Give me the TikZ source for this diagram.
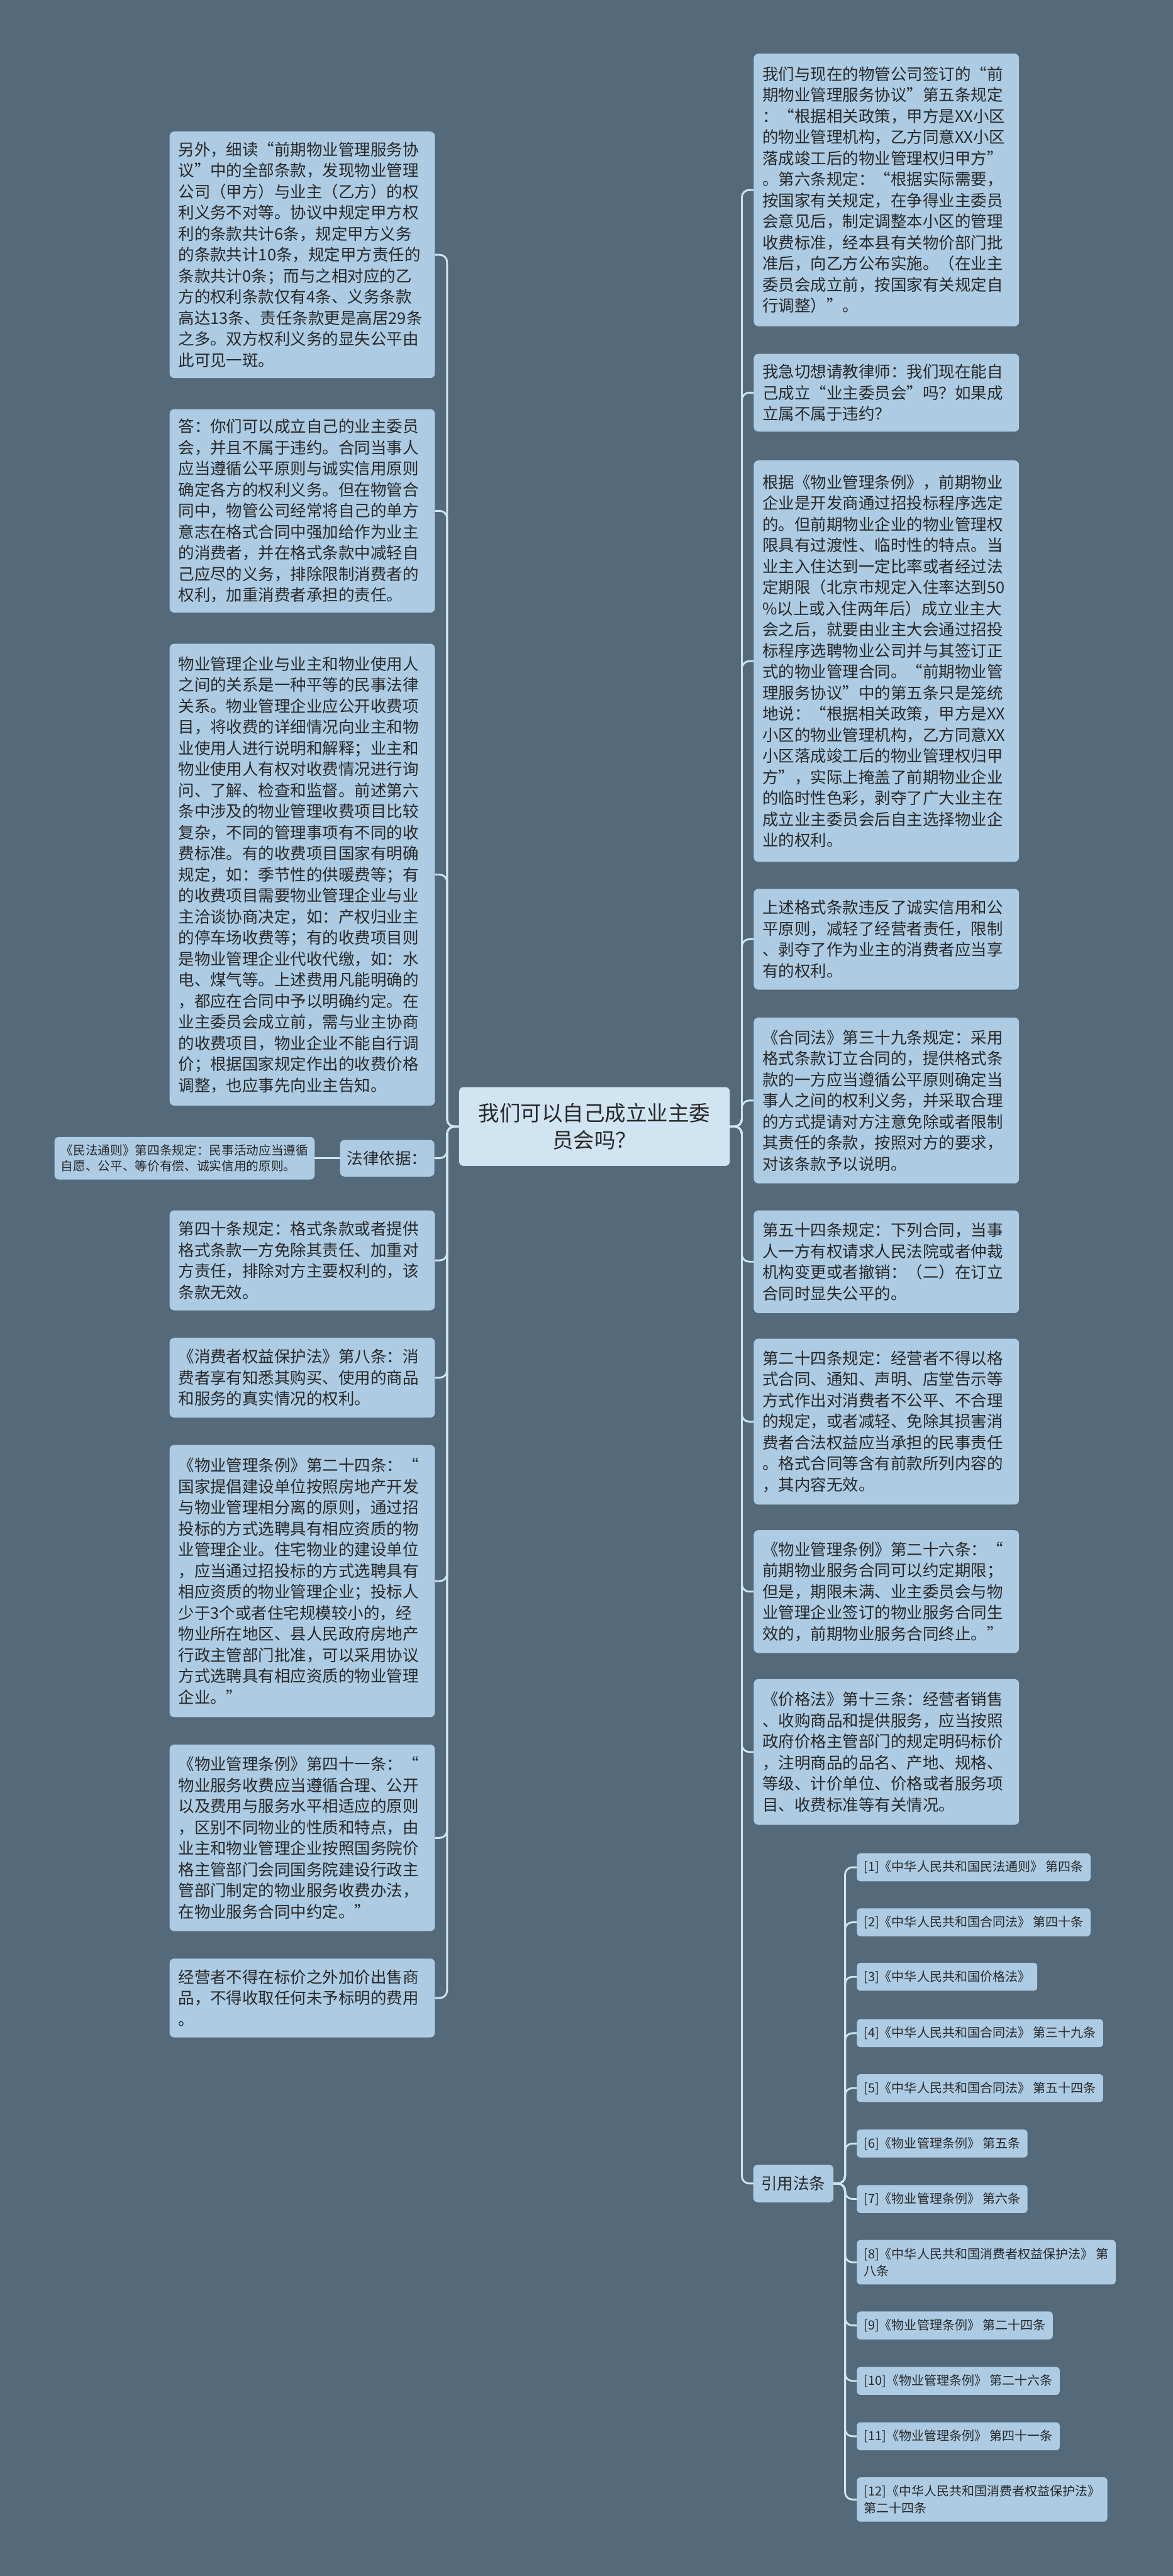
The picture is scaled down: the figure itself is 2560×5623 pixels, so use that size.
\documentclass[tikz,border=0pt]{standalone}
\usepackage{fontspec}
\setmainfont{Noto Sans CJK SC}
\usetikzlibrary{positioning}

\definecolor{bgslate}{RGB}{84,105,121}
\definecolor{leafblue}{RGB}{173,204,228}
\definecolor{rootblue}{RGB}{208,228,242}
\definecolor{linkblue}{RGB}{206,229,242}
\definecolor{inkgray}{RGB}{40,40,40}

\newcommand{\mmbody}{\fontsize{35pt}{46pt}\selectfont}
\newcommand{\mmroot}{\fontsize{46pt}{58pt}\selectfont}
\newcommand{\mmsmall}{\fontsize{27pt}{34pt}\selectfont}
\newcommand{\mmcite}{\fontsize{27.5pt}{37pt}\selectfont}

\begin{document}
\begin{tikzpicture}[x=1pt,y=-1pt,
  leafbox/.style={fill=leafblue, text=inkgray, rounded corners=10pt, anchor=north west, align=left, text width=541pt, inner xsep=19pt, inner ysep=0pt, font=\mmbody},
  tagbox/.style={fill=leafblue, text=inkgray, rounded corners=10pt, anchor=north west, align=center, inner xsep=0pt, inner ysep=0pt, font=\mmbody},
  citebox/.style={fill=leafblue, text=inkgray, rounded corners=8pt, anchor=west, align=left, inner xsep=15pt, inner ysep=0pt, font=\mmcite, minimum height=61pt},
  branchline/.style={draw=linkblue, line width=4pt, rounded corners=16pt}]

\useasboundingbox (0,0) rectangle (2560,5623);
\fill[bgslate] (0,0) rectangle (2560,5623);

\node[fill=rootblue, text=inkgray, rounded corners=10pt, align=center, font=\mmroot, minimum width=591pt, minimum height=172pt, inner sep=0pt] (root) at (1297.5,2459) {我们可以自己成立业主委\\员会吗？};

\node[leafbox, minimum height=538pt] (l1) at (370,287) {另外，细读“前期物业管理服务协\\议”中的全部条款，发现物业管理\\公司（甲方）与业主（乙方）的权\\利义务不对等。协议中规定甲方权\\利的条款共计6条，规定甲方义务\\的条款共计10条，规定甲方责任的\\条款共计0条；而与之相对应的乙\\方的权利条款仅有4条、义务条款\\高达13条、责任条款更是高居29条\\之多。双方权利义务的显失公平由\\此可见一斑。};
\node[leafbox, minimum height=444pt] (l2) at (370,893) {答：你们可以成立自己的业主委员\\会，并且不属于违约。合同当事人\\应当遵循公平原则与诚实信用原则\\确定各方的权利义务。但在物管合\\同中，物管公司经常将自己的单方\\意志在格式合同中强加给作为业主\\的消费者，并在格式条款中减轻自\\己应尽的义务，排除限制消费者的\\权利，加重消费者承担的责任。};
\node[leafbox, minimum height=1008pt] (l3) at (370,1405) {物业管理企业与业主和物业使用人\\之间的关系是一种平等的民事法律\\关系。物业管理企业应公开收费项\\目，将收费的详细情况向业主和物\\业使用人进行说明和解释；业主和\\物业使用人有权对收费情况进行询\\问、了解、检查和监督。前述第六\\条中涉及的物业管理收费项目比较\\复杂，不同的管理事项有不同的收\\费标准。有的收费项目国家有明确\\规定，如：季节性的供暖费等；有\\的收费项目需要物业管理企业与业\\主洽谈协商决定，如：产权归业主\\的停车场收费等；有的收费项目则\\是物业管理企业代收代缴，如：水\\电、煤气等。上述费用凡能明确的\\，都应在合同中予以明确约定。在\\业主委员会成立前，需与业主协商\\的收费项目，物业企业不能自行调\\价；根据国家规定作出的收费价格\\调整，也应事先向业主告知。};
\node[tagbox, minimum width=206pt, minimum height=80pt] (legal) at (742,2488) {法律依据：};
\node[tagbox, align=left, font=\mmsmall, minimum height=93pt, inner xsep=14pt, left=55pt of legal] (minfa) {《民法通则》第四条规定：民事活动应当遵循\\自愿、公平、等价有偿、诚实信用的原则。};
\node[leafbox, minimum height=218pt] (l40) at (370,2642) {第四十条规定：格式条款或者提供\\格式条款一方免除其责任、加重对\\方责任，排除对方主要权利的，该\\条款无效。};
\node[leafbox, minimum height=174pt] (lcons) at (370,2920) {《消费者权益保护法》第八条：消\\费者享有知悉其购买、使用的商品\\和服务的真实情况的权利。};
\node[leafbox, minimum height=594pt] (l24) at (370,3154) {《物业管理条例》第二十四条：“\\国家提倡建设单位按照房地产开发\\与物业管理相分离的原则，通过招\\投标的方式选聘具有相应资质的物\\业管理企业。住宅物业的建设单位\\，应当通过招投标的方式选聘具有\\相应资质的物业管理企业；投标人\\少于3个或者住宅规模较小的，经\\物业所在地区、县人民政府房地产\\行政主管部门批准，可以采用协议\\方式选聘具有相应资质的物业管理\\企业。”};
\node[leafbox, minimum height=407pt] (l41) at (370,3808) {《物业管理条例》第四十一条：“\\物业服务收费应当遵循合理、公开\\以及费用与服务水平相适应的原则\\，区别不同物业的性质和特点，由\\业主和物业管理企业按照国务院价\\格主管部门会同国务院建设行政主\\管部门制定的物业服务收费办法，\\在物业服务合同中约定。”};
\node[leafbox, minimum height=172pt] (llast) at (370,4275) {经营者不得在标价之外加价出售商\\品，不得收取任何未予标明的费用\\。};

\node[leafbox, minimum height=595pt] (r1) at (1645,117) {我们与现在的物管公司签订的“前\\期物业管理服务协议”第五条规定\\：“根据相关政策，甲方是XX小区\\的物业管理机构，乙方同意XX小区\\落成竣工后的物业管理权归甲方”\\。第六条规定：“根据实际需要，\\按国家有关规定，在争得业主委员\\会意见后，制定调整本小区的管理\\收费标准，经本县有关物价部门批\\准后，向乙方公布实施。（在业主\\委员会成立前，按国家有关规定自\\行调整）”。};
\node[leafbox, minimum height=170pt] (r2) at (1645,772) {我急切想请教律师：我们现在能自\\己成立“业主委员会”吗？如果成\\立属不属于违约？};
\node[leafbox, minimum height=876pt] (r3) at (1645,1005) {根据《物业管理条例》，前期物业\\企业是开发商通过招投标程序选定\\的。但前期物业企业的物业管理权\\限具有过渡性、临时性的特点。当\\业主入住达到一定比率或者经过法\\定期限（北京市规定入住率达到50\\\%以上或入住两年后）成立业主大\\会之后，就要由业主大会通过招投\\标程序选聘物业公司并与其签订正\\式的物业管理合同。“前期物业管\\理服务协议”中的第五条只是笼统\\地说：“根据相关政策，甲方是XX\\小区的物业管理机构，乙方同意XX\\小区落成竣工后的物业管理权归甲\\方”，实际上掩盖了前期物业企业\\的临时性色彩，剥夺了广大业主在\\成立业主委员会后自主选择物业企\\业的权利。};
\node[leafbox, minimum height=220pt] (r4) at (1645,1940) {上述格式条款违反了诚实信用和公\\平原则，减轻了经营者责任，限制\\、剥夺了作为业主的消费者应当享\\有的权利。};
\node[leafbox, minimum height=362pt] (r5) at (1645,2221) {《合同法》第三十九条规定：采用\\格式条款订立合同的，提供格式条\\款的一方应当遵循公平原则确定当\\事人之间的权利义务，并采取合理\\的方式提请对方注意免除或者限制\\其责任的条款，按照对方的要求，\\对该条款予以说明。};
\node[leafbox, minimum height=224pt] (r6) at (1645,2642) {第五十四条规定：下列合同，当事\\人一方有权请求人民法院或者仲裁\\机构变更或者撤销：（二）在订立\\合同时显失公平的。};
\node[leafbox, minimum height=362pt] (r7) at (1645,2922) {第二十四条规定：经营者不得以格\\式合同、通知、声明、店堂告示等\\方式作出对消费者不公平、不合理\\的规定，或者减轻、免除其损害消\\费者合法权益应当承担的民事责任\\。格式合同等含有前款所列内容的\\，其内容无效。};
\node[leafbox, minimum height=268pt] (r8) at (1645,3340) {《物业管理条例》第二十六条：“\\前期物业服务合同可以约定期限；\\但是，期限未满、业主委员会与物\\业管理企业签订的物业服务合同生\\效的，前期物业服务合同终止。”};
\node[leafbox, minimum height=318pt] (r9) at (1645,3665) {《价格法》第十三条：经营者销售\\、收购商品和提供服务，应当按照\\政府价格主管部门的规定明码标价\\，注明商品的品名、产地、规格、\\等级、计价单位、价格或者服务项\\目、收费标准等有关情况。};
\node[tagbox, minimum width=175pt, minimum height=82pt] (cite) at (1644,4725) {引用法条};

\node[citebox] (c1) at (1870,4076) {[1]《中华人民共和国民法通则》 第四条};
\node[citebox] (c2) at (1870,4196) {[2]《中华人民共和国合同法》 第四十条};
\node[citebox] (c3) at (1870,4315) {[3]《中华人民共和国价格法》};
\node[citebox] (c4) at (1870,4438) {[4]《中华人民共和国合同法》 第三十九条};
\node[citebox] (c5) at (1870,4558) {[5]《中华人民共和国合同法》 第五十四条};
\node[citebox] (c6) at (1870,4679) {[6]《物业管理条例》 第五条};
\node[citebox] (c7) at (1870,4800) {[7]《物业管理条例》 第六条};
\node[citebox, minimum height=97pt] (c8) at (1870,4938) {[8]《中华人民共和国消费者权益保护法》 第\\八条};
\node[citebox] (c9) at (1870,5076) {[9]《物业管理条例》 第二十四条};
\node[citebox] (c10) at (1870,5197) {[10]《物业管理条例》 第二十六条};
\node[citebox] (c11) at (1870,5318) {[11]《物业管理条例》 第四十一条};
\node[citebox, minimum height=97pt] (c12) at (1870,5456) {[12]《中华人民共和国消费者权益保护法》\\第二十四条};

\foreach \n in {l1,l2,l3,legal,l40,lcons,l24,l41,llast}{
  \draw[branchline] (root.west) -- ++(-26,0) |- (\n.east);
}
\foreach \n in {r1,r2,r3,r4,r5,r6,r7,r8,r9,cite}{
  \draw[branchline] (root.east) -- ++(26,0) |- (\n.west);
}
\foreach \k in {1,...,12}{
  \draw[branchline] (cite.east) -- ++(25,0) |- (c\k.west);
}
\draw[branchline] (legal.west) -- (minfa.east);

\end{tikzpicture}
\end{document}
